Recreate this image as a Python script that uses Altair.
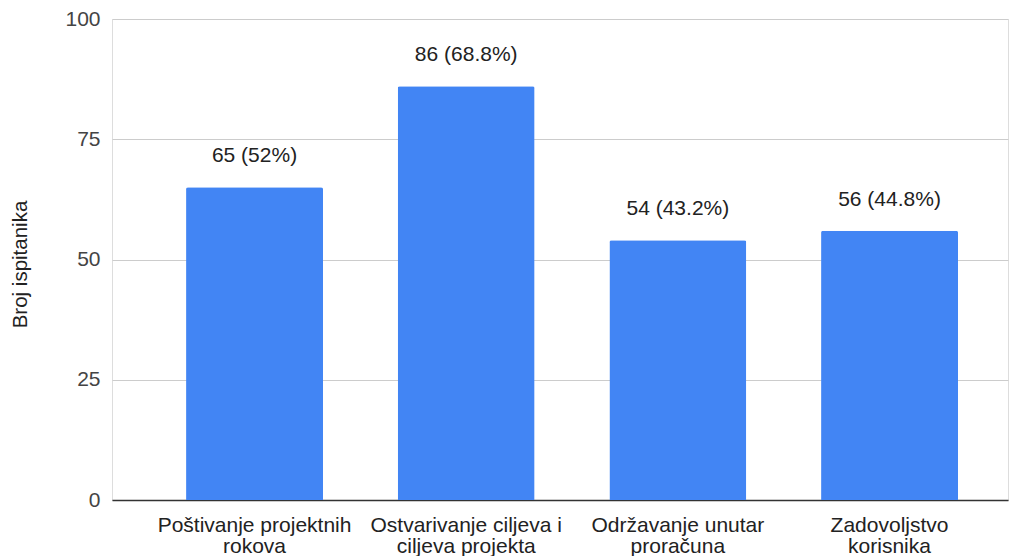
import altair as alt
import pandas as pd

categories = [
    "Poštivanje projektnih\nrokova",
    "Ostvarivanje ciljeva i\nciljeva projekta",
    "Održavanje unutar\nproračuna",
    "Zadovoljstvo\nkorisnika",
]
counts = [65, 86, 54, 56]
labels = ["65 (52%)", "86 (68.8%)", "54 (43.2%)", "56 (44.8%)"]
y_ticks = [0, 25, 50, 75, 100]

df = pd.DataFrame({"cat": categories, "n": counts, "lab": labels})

FONT = "Liberation Sans"

x = alt.X(
    "cat:N",
    sort=categories,
    title=None,
    scale=alt.Scale(paddingInner=0.353, paddingOuter=0.293, align=0.597),
    axis=alt.Axis(
        labelAngle=0,
        labelExpr="split(datum.label, '\\n')",
        labelLineHeight=21,
        labelFontSize=21,
        labelFont=FONT,
        labelColor="#222222",
        labelPadding=14,
        labelLimit=400,
        ticks=False,
        domainColor="#333333",
        domainWidth=1.3,
        grid=False,
    ),
)

y = alt.Y(
    "n:Q",
    title="Broj ispitanika",
    scale=alt.Scale(domain=[0, 100], nice=False),
    axis=alt.Axis(
        values=y_ticks,
        labelFontSize=21,
        labelFont=FONT,
        labelColor="#444444",
        labelPadding=12,
        ticks=False,
        domain=False,
        gridColor="#cccccc",
        gridWidth=1,
        titleFont=FONT,
        titleFontSize=20.5,
        titleFontWeight="normal",
        titleColor="#222222",
        titleX=-92,
        titleY=245,
        titleAngle=-90,
        titleAlign="center",
        titleBaseline="middle",
    ),
)

bars = alt.Chart(df).mark_bar(
    color="#4285F4", cornerRadiusTopLeft=2, cornerRadiusTopRight=2
).encode(x=x, y=y)

text = alt.Chart(df).mark_text(
    font=FONT, fontSize=21, color="#222222", baseline="alphabetic", dy=-25
).encode(x=alt.X("cat:N", sort=categories), y="n:Q", text="lab:N")

chart = (
    alt.layer(bars, text)
    .properties(
        width=896,
        height=481,
        autosize=alt.AutoSizeParams(type="none"),
        padding={"left": 104, "top": 11, "right": 6, "bottom": 56},
    )
    .configure_view(strokeWidth=0)
    .configure(background="white")
)

chart.save("out.html", embed_options={"renderer": "svg", "actions": False})
